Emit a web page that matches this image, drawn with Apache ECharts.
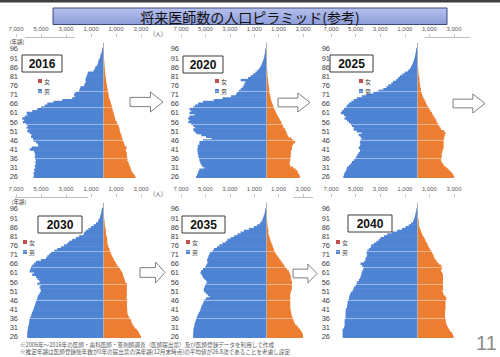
<!DOCTYPE html>
<html><head><meta charset="utf-8">
<script src="https://cdn.jsdelivr.net/npm/echarts@6/dist/echarts.min.js"></script>
<style>html,body{margin:0;padding:0;background:#fff}#c{width:500px;height:357px}</style>
</head><body><div id="c"></div>
<script>
// Categories: age 26..99 (97-99 empty headroom above the top label)
const ages = [];
for (let a = 26; a <= 99; a++) ages.push(String(a));
const years = ['2016', '2020', '2025', '2030', '2035', '2040'];

// Values per age 26..96 (persons)
const m2016 = [5600,5550,5600,5500,5550,5450,5500,5400,5450,5400,5450,5500,5450,5500,5550,5900,5750,5200,5250,5400,5600,5650,5800,5750,5900,6100,6000,6150,6050,6200,6450,6350,6500,6300,6100,6150,5700,5300,5000,4700,4500,4000,3300,2500,2300,2350,2250,1950,1900,1850,1550,1500,1400,1450,1400,1350,1300,1250,800,700,650,500,450,420,380,280,250,220,150,120,100];
const f2016 = [2550,2480,2350,2250,2200,2150,2100,2020,2000,1900,1920,1880,1870,1860,1800,1780,1850,1700,1650,1600,1550,1500,1450,1420,1350,1300,1280,1250,1200,1100,1050,950,920,880,850,800,750,720,680,650,600,550,500,450,420,400,380,350,320,300,280,250,220,200,180,160,140,120,110,100,90,80,70,60,50,40,35,30,20,15,10];
const m2020 = [5760,5680,5620,5570,5490,5080,5250,5350,5430,5490,5490,5570,5570,5620,5650,5650,5620,5620,5490,5490,5200,4500,4950,5350,5750,5900,6000,5850,6000,6150,6400,6300,6400,6300,5900,6300,6150,6300,6000,5850,5600,5200,4300,3600,2900,2500,2400,2250,2100,1950,1850,1800,1700,2100,1500,1300,1100,900,750,600,500,420,360,300,250,200,170,140,110,90,70];
const f2020 = [2750,2700,2600,2550,2400,2200,1950,1900,1900,1950,1950,1980,2000,2000,2000,2070,2100,2100,2200,2350,2200,2050,1800,1720,1650,1600,1530,1400,1350,1270,1200,1130,1030,950,870,780,730,650,590,540,480,430,380,350,320,300,250,240,230,220,190,150,140,130,120,90,80,80,70,60,50,50,40,40,30,25,20,20,15,10,10];
const m2025 = [6000,5950,5900,5800,5750,5700,5550,5400,5300,5150,5000,4950,4850,4750,4650,4650,4750,4650,4600,4650,4600,4500,4600,4750,4500,4900,5150,5150,5300,5400,5550,5700,5900,5800,5950,6200,6100,5950,5800,5700,5550,5350,5150,4900,4500,4100,3550,3150,2750,2500,2350,2100,1950,1700,1550,1400,1200,1000,750,600,500,420,350,300,250,200,170,140,110,90,70];
const f2025 = [3000,2950,2850,2700,2550,2400,2200,2100,2000,1950,1950,2000,2000,2000,2050,2100,2150,2150,2150,2150,2150,2180,2220,2250,2300,2200,1950,1880,1750,1700,1600,1550,1450,1350,1270,1200,1080,1000,920,800,730,680,600,520,460,400,350,320,300,270,240,220,190,190,180,160,110,100,100,90,60,50,50,40,40,25,20,20,15,10,10];
const m2030 = [6100,6100,6100,6080,6050,6050,6000,5970,5950,5920,5900,5830,5780,5720,5670,5600,5560,5500,5450,5400,5350,5300,5260,5180,5100,5000,5030,5110,5030,5300,5100,5150,5300,5400,5700,5550,5900,5850,5800,5700,5550,5400,5000,4600,4500,4350,4200,3950,3700,3400,3150,2900,2750,2500,2200,1950,1600,1550,1400,1200,1000,800,600,450,380,300,260,220,180,150,130];
const f2030 = [3000,2930,2850,2770,2650,2500,2390,2300,2250,2200,2100,2020,1950,1900,1900,1900,1880,1880,1870,1880,1900,1850,1850,1860,1850,1850,1870,1860,1880,1860,1750,1700,1650,1590,1560,1500,1420,1320,1210,1100,1020,940,830,780,700,620,570,510,460,400,350,320,300,290,280,240,200,190,180,170,130,100,90,80,70,40,30,30,20,20,10];
const m2035 = [6000,6000,6000,5980,5980,5950,5890,5890,5840,5780,5750,5680,5620,5540,5460,5400,5350,5300,5220,5140,5100,4950,4650,4800,4950,5100,5140,5080,5030,4950,4850,4950,5100,5220,5300,5400,5350,5200,5030,4950,4850,4810,4860,4810,4750,4680,4600,4410,4300,4050,3860,3600,3320,3190,2920,2650,2380,2110,1840,1430,1030,760,540,410,320,270,220,160,130,100,80];
const f2035 = [3100,3030,2950,2860,2750,2620,2490,2350,2270,2220,2160,2110,2050,2030,2000,1970,1950,1950,1950,1950,1950,1950,1950,1950,1970,2000,2080,2100,2080,2100,2100,2030,2000,2000,1950,1900,1820,1680,1550,1460,1350,1240,1140,1030,920,810,730,650,600,540,490,430,380,320,270,240,170,160,160,150,110,80,80,70,60,30,30,20,20,10,10];
const m2040 = [6050,6050,6050,6050,6050,5950,5890,5890,5890,5890,5840,5810,5810,5810,5810,5800,5700,5700,5650,5650,5600,5540,5510,5460,5400,5250,5190,5140,5000,4920,4860,4730,4650,4590,4540,4510,4460,4380,4320,4460,4600,4320,4190,4190,4110,4050,4110,4050,3920,3780,3730,3510,3300,3110,2970,2700,2430,2030,1620,1220,950,680,490,320,270,220,170,140,100,70,50];
const f2040 = [2970,2920,2840,2700,2620,2510,2430,2380,2350,2320,2300,2270,2270,2270,2270,2300,2300,2300,2300,2300,2320,2380,2300,2160,2110,2050,2100,2100,2100,2100,2100,2100,2100,2100,2100,2030,1950,1970,2030,1950,1760,1620,1510,1410,1350,1300,1220,1140,1030,950,890,810,730,650,590,490,410,350,300,240,190,140,130,130,120,60,50,50,40,30,20];

const maleSeries = [m2016, m2020, m2025, m2030, m2035, m2040];
const femaleSeries = [f2016, f2020, f2025, f2030, f2035, f2040];
const whiteLineAges = ['36', '46', '55', '64', '73'];

const BLUE = '#4f83d3', ORANGE = '#ed7d31', LEG_RED = '#c0504d';
const cols = [{left: 16, width: 125, ym: -2}, {left: 181, width: 122, ym: 2}, {left: 331, width: 123, ym: 1}];
const rows = [{top: 42.6, height: 135.3, axisY: 37}, {top: 202.6, height: 135.3, axisY: 197}];
const legendPos = [[38, 78], [215, 78], [359, 78], [23, 239], [186, 239], [336, 239]];
const boxes = [[22, 55, 40, 17], [183, 56, 40, 17], [330, 55, 43, 17], [38, 216, 44, 17], [182, 216, 43, 17], [348, 215, 44, 17]];
const arrows = [[130, 92, 33, 20], [278, 93, 32, 19], [453, 94, 32, 19], [140, 262, 25, 21], [293, 264, 24, 19]];

const fmt = v => Math.abs(v).toLocaleString('en-US');
const pad = arr => arr.concat([null, null, null]);

const option = {animation: false, grid: [], xAxis: [], yAxis: [], series: [], legend: [], graphic: []};
const cjk = '"Noto Sans CJK JP", "Noto Sans", sans-serif';
const lat = '"Liberation Sans", Arial, sans-serif';

years.forEach((yr, i) => {
  const c = cols[i % 3], r = rows[Math.floor(i / 3)];
  option.grid.push({left: c.left, width: c.width, top: r.top, height: r.height});
  option.xAxis.push({
    gridIndex: i, type: 'value', position: 'top', offset: r.top - r.axisY,
    min: -7000, max: 3000, interval: 2000,
    axisLine: {show: false}, splitLine: {show: false},
    axisTick: {show: true, length: 3, lineStyle: {color: '#c8c8c8'}},
    axisLabel: {fontSize: 6, color: '#595959', margin: 5, fontFamily: lat, formatter: fmt, showMinLabel: true, showMaxLabel: true},
    name: (i % 3 === 0) ? '(人)' : '', nameLocation: 'end', nameGap: 12,
    nameTextStyle: {fontSize: 6, color: '#595959', fontFamily: cjk, verticalAlign: 'bottom', padding: [0, 0, 1, 0]}
  });
  option.yAxis.push({
    gridIndex: i, type: 'category', data: ages,
    axisLine: {show: false}, axisTick: {show: false}, splitLine: {show: false},
    axisLabel: {interval: 4, fontSize: 7.5, lineHeight: 7.5, color: '#404040', margin: c.ym, fontFamily: lat}
  });
  option.series.push({
    type: 'bar', name: '男', xAxisIndex: i, yAxisIndex: i, stack: 's' + i,
    data: pad(maleSeries[i].map(v => -v)), itemStyle: {color: BLUE},
    barWidth: '135%', silent: true
  });
  option.series.push({
    type: 'bar', name: '女', xAxisIndex: i, yAxisIndex: i, stack: 's' + i,
    data: pad(femaleSeries[i]), itemStyle: {color: ORANGE},
    barWidth: '135%', silent: true,
    markLine: {
      silent: true, symbol: 'none', label: {show: false}, animation: false,
      data: whiteLineAges.map(a => ({yAxis: a, lineStyle: {color: 'rgba(255,255,255,0.55)', width: 0.8, type: 'solid'}}))
        .concat([{xAxis: 0, lineStyle: {color: '#b0b0b0', width: 1, type: 'solid'}}])
    }
  });
  const lp = legendPos[i];
  option.legend.push({
    orient: 'vertical', left: lp[0], top: lp[1], padding: 0,
    itemWidth: 4, itemHeight: 4, itemGap: 4, icon: 'rect', selectedMode: false,
    textStyle: {fontSize: 6, lineHeight: 6, color: '#404040', fontFamily: cjk, padding: [0, 0, 0, -3]},
    data: [{name: '女', itemStyle: {color: LEG_RED, borderWidth: 0}}, {name: '男', itemStyle: {color: BLUE, borderWidth: 0}}]
  });
  const b = boxes[i];
  option.graphic.push({type: 'rect', shape: {x: b[0], y: b[1], width: b[2], height: b[3]}, style: {fill: '#fff', stroke: '#3a3a3a', lineWidth: 1}, z: 10});
  option.graphic.push({type: 'text', x: b[0] + b[2] / 2, y: b[1] + b[3] / 2 + 0.5, style: {text: yr, fill: '#111', font: 'bold 12px ' + lat, textAlign: 'center', textVerticalAlign: 'middle'}, z: 11});
});

arrows.forEach(a => {
  const [x, y, w, h] = a;
  option.graphic.push({type: 'polygon', shape: {points: [[x, y + 0.27 * h], [x + 0.62 * w, y + 0.27 * h], [x + 0.62 * w, y], [x + w, y + h / 2], [x + 0.62 * w, y + h], [x + 0.62 * w, y + 0.73 * h], [x, y + 0.73 * h]]}, style: {fill: '#fff', stroke: '#7f7f7f', lineWidth: 1}, z: 10});
});

option.graphic.push(
  {type: 'rect', shape: {x: 0, y: 0, width: 500, height: 2.5}, style: {fill: '#3f3f3f'}},
  {type: 'rect', shape: {x: 53, y: 8, width: 394, height: 16.5},
   style: {fill: new echarts.graphic.LinearGradient(0, 0, 0, 1, [{offset: 0, color: '#b5c0ec'}, {offset: 0.5, color: '#a2afe4'}, {offset: 1, color: '#8e9dda'}]), stroke: '#3d4a7c', lineWidth: 1}},
  {type: 'text', x: 250, y: 16.5, style: {text: '将来医師数の人口ピラミッド(参考)', fill: '#111', font: '14px ' + cjk, textAlign: 'center', textVerticalAlign: 'middle'}},
  {type: 'line', shape: {x1: 25, y1: 37.5, x2: 75, y2: 37.5}, style: {stroke: '#c0c0c0', lineWidth: 1}},
  {type: 'line', shape: {x1: 425, y1: 37.5, x2: 470, y2: 37.5}, style: {stroke: '#c0c0c0', lineWidth: 1}},
  {type: 'line', shape: {x1: 15, y1: 197.5, x2: 88, y2: 197.5}, style: {stroke: '#c0c0c0', lineWidth: 1}},
  {type: 'line', shape: {x1: 293, y1: 197.5, x2: 313, y2: 197.5}, style: {stroke: '#c0c0c0', lineWidth: 1}},
  {type: 'text', x: 17, y: 42, style: {text: '(年齢)', fill: '#404040', font: '5.5px ' + cjk, textAlign: 'center', textVerticalAlign: 'middle'}},
  {type: 'text', x: 19, y: 202, style: {text: '(年齢)', fill: '#404040', font: '5.5px ' + cjk, textAlign: 'center', textVerticalAlign: 'middle'}},
  {type: 'text', x: 20, y: 344.8, style: {text: '※2006年～2016年の医師・歯科医師・薬剤師調査（医師届出票）及び医師登録データを利用して作成', fill: '#595959', font: '5.6px ' + cjk, textVerticalAlign: 'middle'}},
  {type: 'text', x: 20, y: 351.8, style: {text: '※推定年齢は医師登録後年数が0年の届出票の満年齢(12月末時点)の平均値が26.8歳であることを考慮し設定', fill: '#595959', font: '5.6px ' + cjk, textVerticalAlign: 'middle'}},
  {type: 'text', x: 476, y: 343, style: {text: '11', fill: '#8c8c8c', font: '20px ' + lat, textVerticalAlign: 'middle'}}
);

const chart = echarts.init(document.getElementById('c'), null, {renderer: 'svg'});
chart.setOption(option);
</script>
</body></html>
